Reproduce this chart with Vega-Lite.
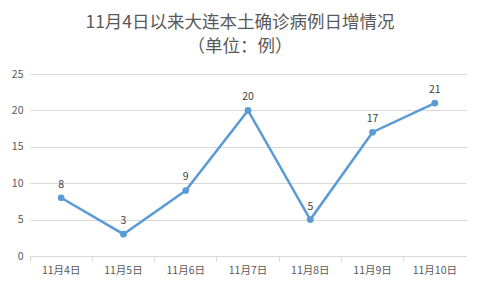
{
  "$schema": "https://vega.github.io/schema/vega-lite/v6.json",
  "autosize": "none",
  "width": 436,
  "height": 182,
  "padding": {"left": 30, "top": 74, "right": 15, "bottom": 33},
  "background": "white",
  "title": {
    "text": ["11月4日以来大连本土确诊病例日增情况", "（单位：例）"],
    "font": "Noto Sans CJK SC",
    "fontSize": 17.5,
    "fontWeight": "normal",
    "color": "#595959",
    "anchor": "middle",
    "dx": -8,
    "offset": 14,
    "lineHeight": 24
  },
  "data": {
    "values": [
      {"date": "11月4日", "cases": 8},
      {"date": "11月5日", "cases": 3},
      {"date": "11月6日", "cases": 9},
      {"date": "11月7日", "cases": 20},
      {"date": "11月8日", "cases": 5},
      {"date": "11月9日", "cases": 17},
      {"date": "11月10日", "cases": 21}
    ]
  },
  "encoding": {
    "x": {
      "field": "date",
      "type": "ordinal",
      "sort": null,
      "bandPosition": 0.5,
      "scale": {"type": "band", "paddingInner": 0, "paddingOuter": 0},
      "axis": {
        "title": null,
        "labelAngle": 0,
        "labelFont": "Noto Sans CJK SC",
        "labelFontSize": 10.5,
        "labelColor": "#595959",
        "domainColor": "#d9d9d9",
        "tickColor": "#d9d9d9",
        "tickSize": 5,
        "bandPosition": 0,
        "labelPadding": 4,
        "grid": false
      }
    },
    "y": {
      "field": "cases",
      "type": "quantitative",
      "scale": {"domain": [0, 25]},
      "axis": {
        "title": null,
        "values": [0, 5, 10, 15, 20, 25],
        "labelFont": "Noto Sans CJK SC",
        "labelFontSize": 10.5,
        "labelColor": "#595959",
        "domain": false,
        "ticks": false,
        "gridColor": "#d9d9d9",
        "labelPadding": 7
      }
    }
  },
  "layer": [
    {
      "mark": {"type": "line", "color": "#5B9BD5", "strokeWidth": 2.5, "point": {"filled": true, "size": 45, "color": "#5B9BD5"}}
    },
    {
      "mark": {"type": "text", "dy": -13, "font": "Noto Sans CJK SC", "fontSize": 10.5, "color": "#404040"},
      "encoding": {"text": {"field": "cases", "type": "quantitative"}}
    }
  ],
  "config": {"view": {"stroke": null}}
}
